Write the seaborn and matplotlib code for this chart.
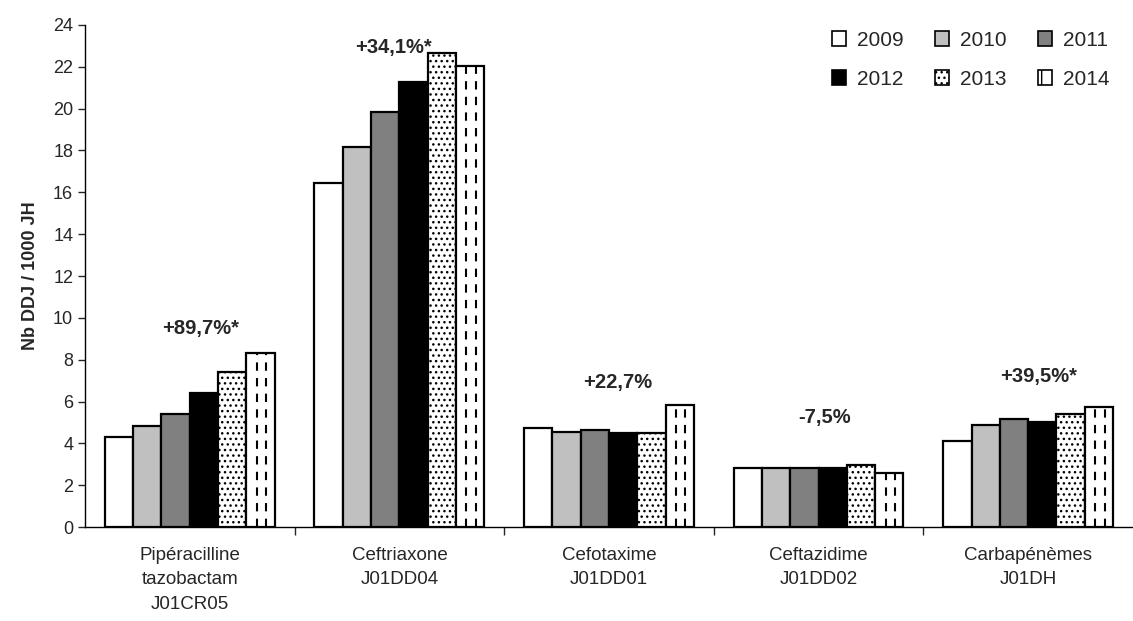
import matplotlib
matplotlib.use("Agg")
import matplotlib.pyplot as plt
import seaborn as sns
import pandas as pd
import numpy as np
from matplotlib.patches import Patch

categories = ["Pipéracilline\ntazobactam\nJ01CR05", "Ceftriaxone\nJ01DD04",
              "Cefotaxime\nJ01DD01", "Ceftazidime\nJ01DD02", "Carbapénèmes\nJ01DH"]
years = ["2009", "2010", "2011", "2012", "2013", "2014"]
v2009 = [4.3, 16.45, 4.75, 2.85, 4.1]
v2010 = [4.85, 18.15, 4.55, 2.85, 4.9]
v2011 = [5.4, 19.85, 4.65, 2.85, 5.15]
v2012 = [6.4, 21.25, 4.5, 2.85, 5.05]
v2013 = [7.4, 22.65, 4.5, 2.95, 5.4]
v2014 = [8.3, 22.05, 5.85, 2.6, 5.75]
changes = ["+89,7%*", "+34,1%*", "+22,7%", "-7,5%", "+39,5%*"]
change_y = [9.5, 22.9, 6.9, 5.25, 7.2]
change_dx = [0.05, -0.03, 0.04, 0.03, 0.05]

series = [v2009, v2010, v2011, v2012, v2013, v2014]
rows = []
for y, vals in zip(years, series):
    for c, v in zip(categories, vals):
        rows.append({"cat": c, "year": y, "val": v})
df = pd.DataFrame(rows)

colors = ["white", "#c0c0c0", "#808080", "black", "white", "white"]
hatches = [None, None, None, None, "...", None]

sns.set_style("white")
plt.rcParams["font.family"] = ["Liberation Sans", "DejaVu Sans"]
plt.rcParams["hatch.linewidth"] = 1.0

fig = plt.figure(figsize=(11.33, 6.21), dpi=100)
ax = fig.add_axes([0.075, 0.151, 0.925, 0.809])

sns.barplot(data=df, x="cat", y="val", hue="year", hue_order=years, order=categories,
            palette=colors, width=0.81, gap=0, edgecolor="black", linewidth=1.6,
            ax=ax, legend=False)

for i, cont in enumerate(ax.containers):
    for p in cont.patches:
        p.set_facecolor(colors[i])
        p.set_edgecolor("black")
        p.set_linewidth(1.6)
        if hatches[i]:
            p.set_hatch(hatches[i])
    if years[i] == "2014":
        for p in cont.patches:
            x0, w, h = p.get_x(), p.get_width(), p.get_height()
            for frac in (0.37, 0.70):
                ax.vlines(x0 + w * frac, 0, h, colors="black", linewidth=1.5,
                          linestyles=(0, (4, 3.5)), zorder=p.get_zorder() + 0.1)

ax.set_ylim(0, 24)
ax.set_xlim(-0.5, len(categories) - 0.5)
ax.set_yticks(np.arange(0, 25, 2))
ax.tick_params(axis="y", which="both", left=True, length=5, width=1, labelsize=13, direction="out")
ax.set_xticks(range(len(categories)))
ax.set_xticklabels(categories, fontsize=13.5, linespacing=1.6)
ax.tick_params(axis="x", which="major", length=0, pad=14)
ax.set_xticks(np.arange(0.5, len(categories) - 0.5, 1), minor=True)
ax.tick_params(axis="x", which="minor", bottom=True, length=6, width=1, direction="out")
ax.set_xlabel("")
ax.set_ylabel("Nb DDJ / 1000 JH", fontsize=13, fontweight="bold", labelpad=10)

for s in ["top", "right"]:
    ax.spines[s].set_visible(False)
for s in ["left", "bottom"]:
    ax.spines[s].set_color("black")
    ax.spines[s].set_linewidth(1)

for i, (t, yv) in enumerate(zip(changes, change_y)):
    ax.text(i + change_dx[i], yv, t, ha="center", va="center", fontsize=14.5, fontweight="bold")

handles = []
for i, y in enumerate(years):
    handles.append(Patch(facecolor=colors[i], edgecolor="black", linewidth=1.2,
                         hatch=hatches[i] if hatches[i] else ("|" if y == "2014" else None), label=y))
order = [0, 3, 1, 4, 2, 5]
leg = ax.legend(handles=[handles[k] for k in order], ncol=3, loc="upper right",
                bbox_to_anchor=(0.995, 1.025),
                frameon=False, fontsize=15, handlelength=0.7, handleheight=0.7,
                columnspacing=1.5, handletextpad=0.5, labelspacing=0.95)

fig.savefig("out.png", dpi=100)
